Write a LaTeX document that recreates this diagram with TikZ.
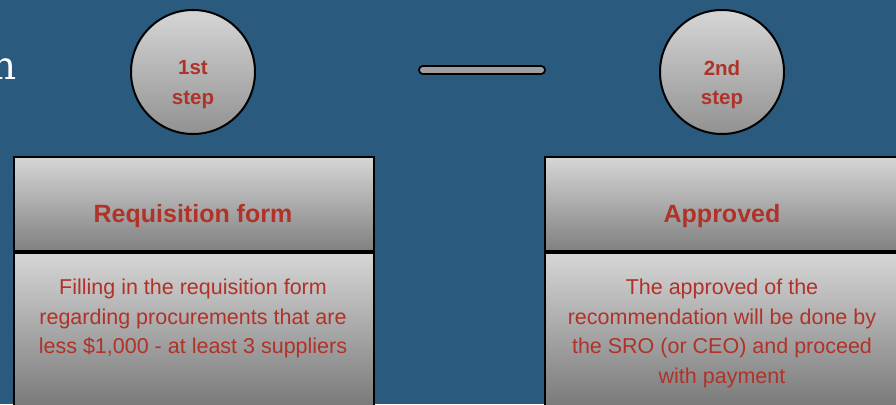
\documentclass[tikz,border=0pt]{standalone}
\usepackage{fontspec}
\setmainfont{Liberation Sans}
\newfontfamily\slabfont{DejaVu Serif}
\definecolor{bg}{RGB}{42,90,126}
\definecolor{txtred}{RGB}{176,50,40}
\definecolor{gtop}{RGB}{214,214,214}
\definecolor{gbot}{RGB}{128,128,128}
\tikzset{
  stepcircle/.style={circle, draw=black, line width=2pt, minimum size=124pt,
    inner sep=0pt, top color=gtop, bottom color=gbot!80!gtop},
  headbox/.style={rectangle, draw=black, line width=2.2pt, minimum width=360pt,
    minimum height=94pt, inner sep=0pt, top color=gtop, bottom color=gbot},
  bodybox/.style={rectangle, draw=black, line width=2.2pt, minimum width=360pt,
    minimum height=175pt, inner sep=0pt, top color=gtop, bottom color=gbot!85!black},
  steplabel/.style={text=txtred, font=\fontsize{20.5}{29.5}\selectfont\bfseries, align=center, inner sep=0pt},
  headlabel/.style={text=txtred, font=\fontsize{25}{30}\selectfont\bfseries, inner sep=0pt},
  bodylabel/.style={text=txtred, font=\fontsize{21.5}{29.6}\selectfont, align=center, inner sep=0pt},
}
\begin{document}
\begin{tikzpicture}[x=1pt,y=-1pt]
\fill[bg] (0,0) rectangle (896,404);
\useasboundingbox (0,0) rectangle (896,404);

% fragment of the title at the left edge
\node[text=white, font=\slabfont\fontsize{39}{40}\selectfont, anchor=base east, inner sep=0pt] (title) at (17,79) {n};

% step markers
\node[stepcircle] (c1) at (193,72) {};
\node[steplabel] (c1t) at (193,84.5) {1st\\step};
\node[stepcircle] (c2) at (722,72) {};
\node[steplabel] (c2t) at (722,84.5) {2nd\\step};

% connector bar between the markers
\coordinate (barL) at (423,70);
\coordinate (barR) at (541,70);
\draw[black, line width=10pt, line cap=round] (barL) -- (barR);
\draw[gray!75!white, line width=6pt, line cap=round] (barL) -- (barR);

% first column
\node[headbox, anchor=north west] (h1) at (13,156) {};
\node[headlabel] (h1t) at (193,216.5) {Requisition form};
\node[bodybox, anchor=north west] (b1) at (13,252) {};
\node[bodylabel, anchor=north] (b1t) at (193,279) {Filling in the requisition form\\regarding procurements that are\\less \$1,000 - at least 3 suppliers};

% second column
\node[headbox, anchor=north west] (h2) at (544,156) {};
\node[headlabel] (h2t) at (722,216.5) {Approved};
\node[bodybox, anchor=north west] (b2) at (544,252) {};
\node[bodylabel, anchor=north] (b2t) at (722,279) {The approved of the\\recommendation will be done by\\the SRO (or CEO) and proceed\\with payment};
\end{tikzpicture}
\end{document}
